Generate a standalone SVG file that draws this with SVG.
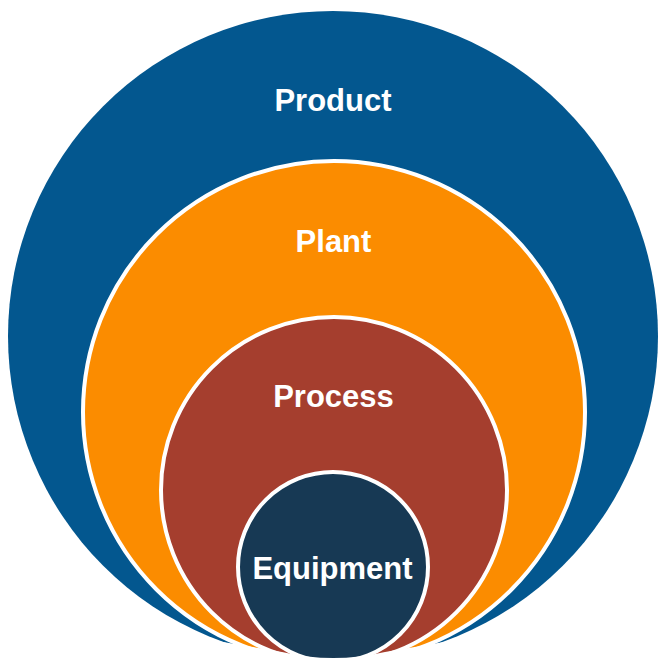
<svg xmlns="http://www.w3.org/2000/svg" width="658" height="662" viewBox="0 0 658 662">
  <style>
    .ring { stroke: #ffffff; stroke-width: 4; }
    .lbl { font-family: "Liberation Sans", Arial, sans-serif; font-weight: bold; font-size: 31px; fill: #ffffff; text-anchor: middle; }
  </style>
  <rect width="658" height="662" fill="#ffffff"/>
  <g id="product">
    <circle cx="333" cy="336" r="325" fill="#03578f"/>
    <text class="lbl" x="333" y="111">Product</text>
  </g>
  <g id="plant">
    <circle class="ring" cx="334" cy="412" r="251" fill="#fb8c00"/>
    <text class="lbl" x="333.5" y="252">Plant</text>
  </g>
  <g id="process">
    <circle class="ring" cx="334" cy="490" r="173" fill="#a53e2e"/>
    <text class="lbl" x="333.5" y="407">Process</text>
  </g>
  <g id="equipment">
    <circle class="ring" cx="333" cy="567" r="95" fill="#173954"/>
    <text class="lbl" x="332.5" y="579">Equipment</text>
  </g>
  <g id="connectors"></g>
  <path d="M 205 639 L 282 652 Q 333 664 385 652 L 462 639 L 470 670 L 195 670 Z" fill="#ffffff"/>
</svg>
